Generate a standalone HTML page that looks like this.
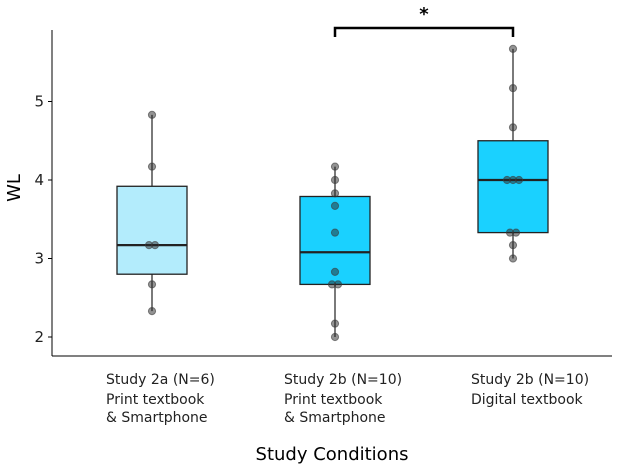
<!DOCTYPE html>
<html><head><meta charset="utf-8"><style>
body{margin:0;background:#fff}
svg text{font-family:"DejaVu Sans","Liberation Sans",sans-serif}
</style></head><body>
<svg id="c" width="624" height="469" viewBox="0 0 624 469">
<g id="plot"></g>
</svg>
<script>
const categories=["Study 2a","Study 2b Print","Study 2b Digital"];
const q1s=[2.8,2.67,3.33];
const medians=[3.17,3.08,4.0];
const q3s=[3.92,3.79,4.5];
const lows=[2.33,2.0,3.0];
const highs=[4.83,4.17,5.67];
const points1=[2.33,2.67,3.17,3.17,4.17,4.83];
const points2=[2.0,2.17,2.67,2.67,2.83,3.33,3.67,3.83,4.0,4.17];
const points3=[3.0,3.17,3.33,3.33,4.0,4.0,4.0,4.67,5.17,5.67];
const yTicks=[2,3,4,5];
const fills=["#b3ecfc","#1ad1ff","#1ad1ff"];
const ns="http://www.w3.org/2000/svg";
const g=document.getElementById('plot');
const y=v=>337-(v-2)*78.5;
const x=i=>[152,335,513][i];
function mk(t,a,p){const e=document.createElementNS(ns,t);for(const k in a)e.setAttribute(k,a[k]);(p||g).appendChild(e);return e;}
let ax=mk('line',{x1:52,y1:30,x2:52,y2:356,stroke:'#000','stroke-width':1});


ax=mk('line',{x1:52,y1:356,x2:612,y2:356,stroke:'#000','stroke-width':1});


yTicks.forEach(v=>{
 mk('line',{x1:48,y1:y(v),x2:52,y2:y(v),stroke:'#000'});
 const t=mk('text',{x:44,y:y(v)+5,'text-anchor':'end','font-size':15,fill:'#222'});t.textContent=v;
 
 
});
const yt=mk('text',{x:20,y:188,'text-anchor':'middle','font-size':18,transform:'rotate(-90 20 188)'});yt.textContent='WL';


const allPts=[points1,points2,points3];
categories.forEach((c,i)=>{
 const cx=x(i),hw=35;
 mk('line',{x1:cx,y1:y(highs[i]),x2:cx,y2:y(lows[i]),stroke:'#333','stroke-width':1.3});
 const b=mk('rect',{x:cx-hw,y:y(q3s[i]),width:2*hw,height:y(q1s[i])-y(q3s[i]),fill:fills[i],stroke:'#222','stroke-width':1.3});
 
 
 mk('line',{x1:cx-hw,y1:y(medians[i]),x2:cx+hw,y2:y(medians[i]),stroke:'#222','stroke-width':2.2});
 const cnt={};
 allPts[i].forEach(v=>{cnt[v]=(cnt[v]||0)+1;});
 const seen={};
 allPts[i].forEach(v=>{
  const n=cnt[v],k=(seen[v]=(seen[v]||0)+1)-1;
  const dx=(k-(n-1)/2)*6;
  const p=mk('circle',{cx:cx+dx,cy:y(v),r:3.6,fill:'rgba(40,40,40,0.5)',stroke:'rgba(60,60,60,0.6)','stroke-width':1});
  
  
 });
});
const br=mk('path',{d:`M${x(1)} 37 V28 H${x(2)} V37`,fill:'none',stroke:'#000','stroke-width':2.5});


const st=mk('text',{x:424,y:20,'text-anchor':'middle','font-size':18,'font-weight':'bold'});st.textContent='*';


const labs=[["Study 2a ","(N=6)","Print textbook","& Smartphone"],["Study 2b ","(N=10)","Print textbook","& Smartphone"],["Study 2b ","(N=10)","Digital textbook",""]];
const lx=[106,284,471];
labs.forEach((l,i)=>{
 const t=mk('text',{x:lx[i],y:384,'font-size':14,fill:'#222'});
 t.textContent=l[0];
 const s=mk('tspan',{'font-size':14},t);s.textContent=l[1];
 
 
 const t2=mk('text',{x:lx[i],y:404,'font-size':14,fill:'#222'});t2.textContent=l[2];
 
 
 const t3=mk('text',{x:lx[i],y:422,'font-size':14,fill:'#222'});t3.textContent=l[3];
 
 
});
const xt=mk('text',{x:332,y:460,'text-anchor':'middle','font-size':18});xt.textContent='Study Conditions';


</script>
</body></html>
